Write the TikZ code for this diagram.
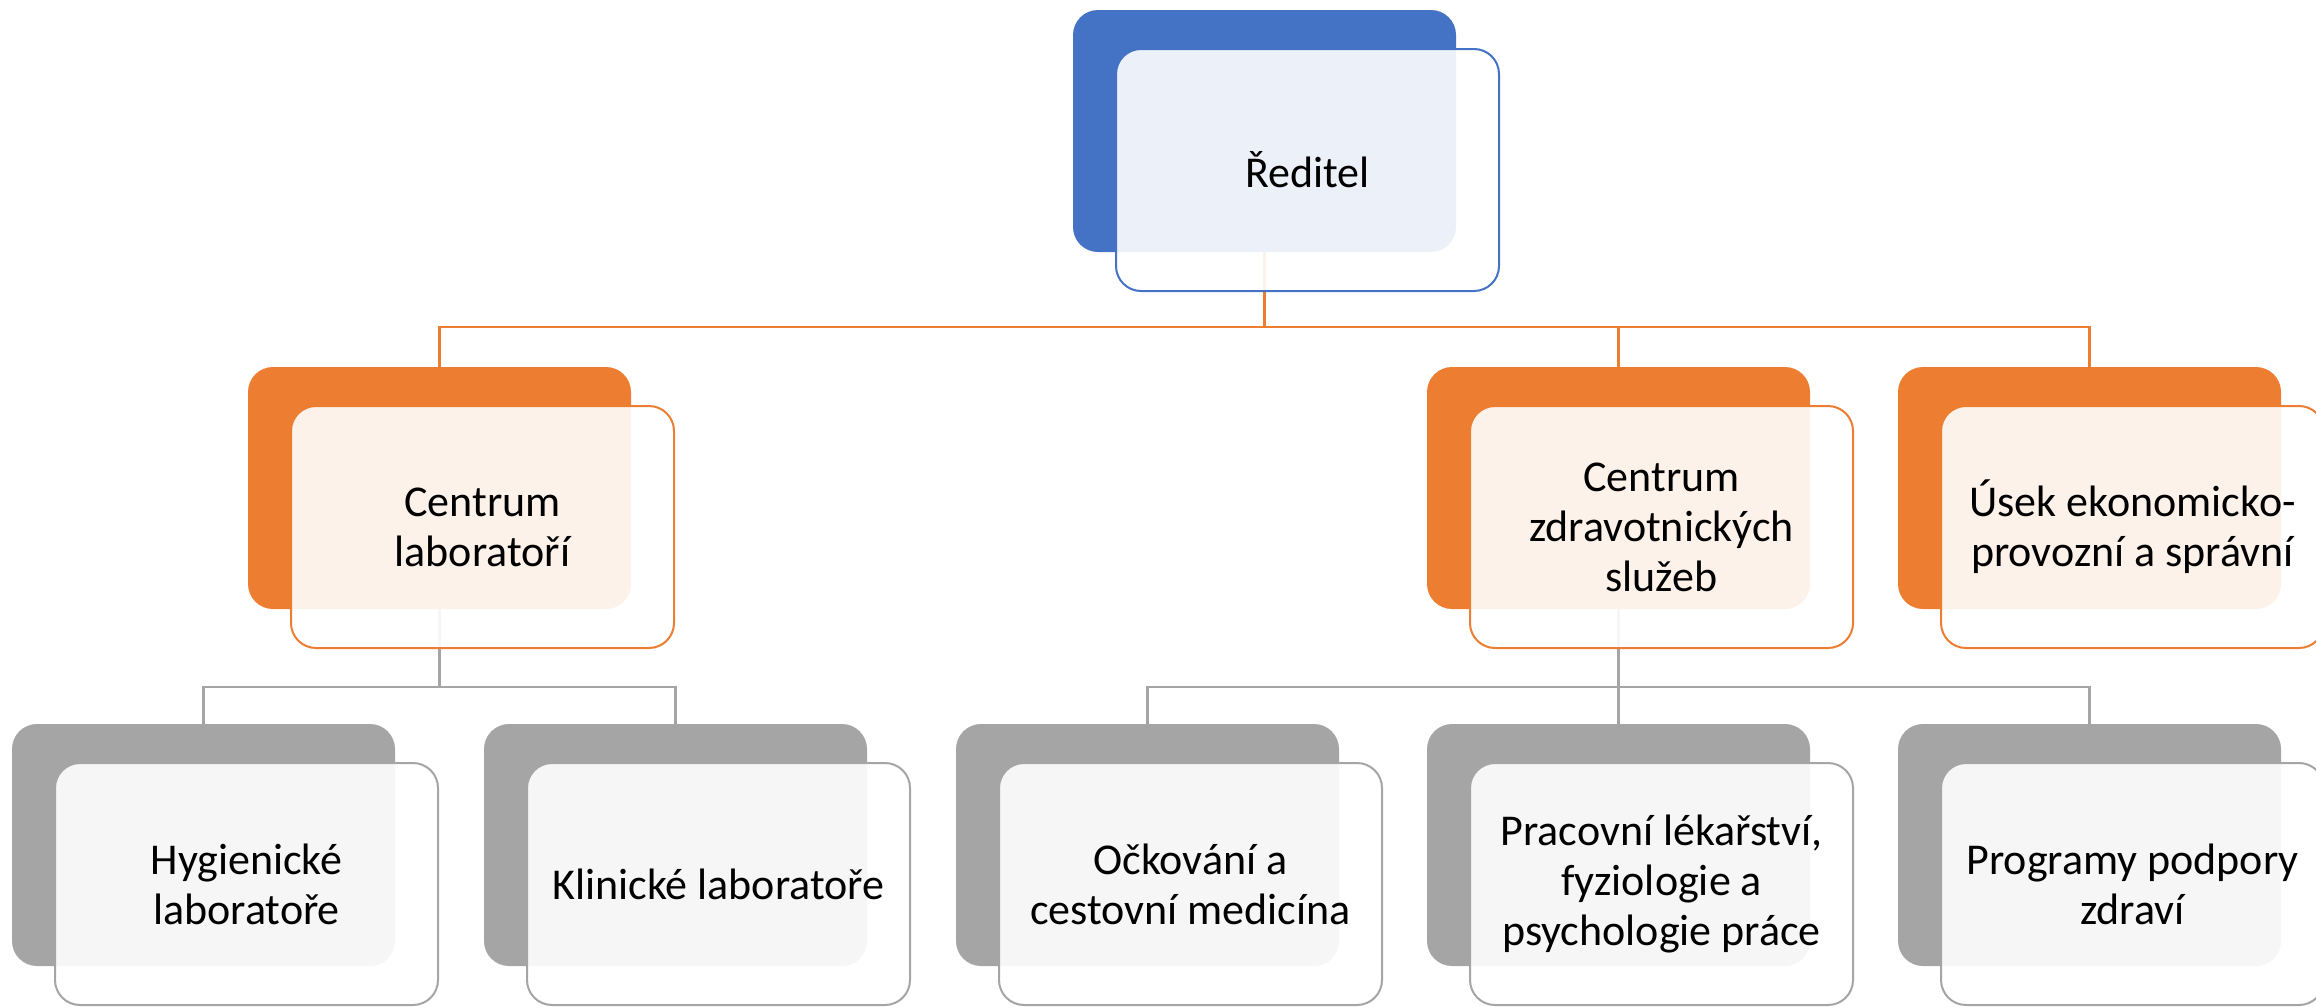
\documentclass[tikz,border=0pt]{standalone}
\usepackage{fontspec}
\setmainfont{Carlito}
\definecolor{cblue}{HTML}{4472C4}
\definecolor{corange}{HTML}{ED7D31}
\definecolor{cgray}{HTML}{A5A5A5}
\begin{document}
\begin{tikzpicture}[x=0.5pt,y=-0.5pt,
  backbox/.style={rectangle, rounded corners=12.5pt, minimum width=191.5pt, minimum height=121pt, inner sep=0pt, fill=#1},
  frontbox/.style={rectangle, rounded corners=12.5pt, minimum width=191.5pt, minimum height=121pt, inner sep=0pt, draw=#1, line width=1pt, fill=white, fill opacity=0.9, text opacity=1, align=center, font=\fontsize{22}{25}\selectfont},
  conn/.style={line width=1.1pt, draw=#1}]
\useasboundingbox (0,0) rectangle (2316,1007);
% back boxes
\node[backbox=cblue] (tb) at (1264.5,131) {};
\node[backbox=corange] (ab) at (439.5,488) {};
\node[backbox=corange] (bb) at (1618.5,488) {};
\node[backbox=corange] (cb) at (2089.5,488) {};
\node[backbox=cgray] (h1b) at (203.5,845) {};
\node[backbox=cgray] (h2b) at (675.5,845) {};
\node[backbox=cgray] (h3b) at (1147.5,845) {};
\node[backbox=cgray] (h4b) at (1618.5,845) {};
\node[backbox=cgray] (h5b) at (2089.5,845) {};
% connectors
\coordinate (bus1) at (1264.5,327);
\coordinate (bus2) at (439.5,687);
\coordinate (bus3) at (1618.5,687);
\draw[conn=corange] (tb.south) -- (bus1) -| (ab.north);
\draw[conn=corange] (bus1) -| (bb.north);
\draw[conn=corange] (bus1) -| (cb.north);
\draw[conn=cgray] (ab.south) -- (bus2) -| (h1b.north);
\draw[conn=cgray] (bus2) -| (h2b.north);
\draw[conn=cgray] (bb.south) -- (bus3) -| (h3b.north);
\draw[conn=cgray] (bus3) -- (h4b.north);
\draw[conn=cgray] (bus3) -| (h5b.north);
% front boxes
\node[frontbox=cblue] (t) at (1307.5,170) {Ředitel};
\node[frontbox=corange] (a) at (482.5,527) {Centrum\\laboratoří};
\node[frontbox=corange] (b) at (1661.5,527) {Centrum\\zdravotnických\\služeb};
\node[frontbox=corange] (c) at (2132.5,527) {Úsek ekonomicko-\\provozní a správní};
\node[frontbox=cgray] (h1) at (246.5,884) {Hygienické\\laboratoře};
\node[frontbox=cgray] (h2) at (718.5,884) {Klinické laboratoře};
\node[frontbox=cgray] (h3) at (1190.5,884) {Očkování a\\cestovní medicína};
\node[frontbox=cgray] (h4) at (1661.5,884) {Pracovní lékařství,\\fyziologie a\\psychologie práce};
\node[frontbox=cgray] (h5) at (2132.5,884) {Programy podpory\\zdraví};
\end{tikzpicture}
\end{document}
